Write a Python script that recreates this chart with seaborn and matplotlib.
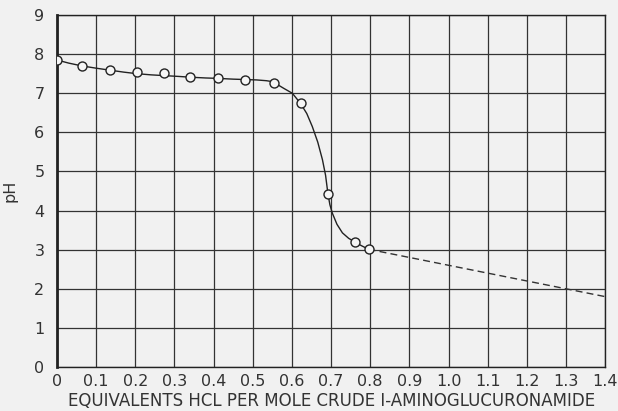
import numpy as np
import pandas as pd
import matplotlib
matplotlib.use("Agg")
import matplotlib.pyplot as plt
import seaborn as sns

eq_hcl = [0.0, 0.063, 0.135, 0.204, 0.274, 0.340, 0.410, 0.480, 0.554, 0.622, 0.692, 0.760, 0.796]
ph_val = [7.85, 7.70, 7.59, 7.55, 7.52, 7.41, 7.38, 7.33, 7.27, 6.74, 4.43, 3.20, 3.01]

# gezeichnete Kurve
curve_x = [0.0, 0.03, 0.063, 0.10, 0.135, 0.17, 0.204, 0.24, 0.274, 0.31, 0.340, 0.38, 0.410,
           0.45, 0.480, 0.51, 0.535, 0.554, 0.565, 0.58, 0.601, 0.622, 0.638, 0.652, 0.666,
           0.678, 0.686, 0.692, 0.697, 0.703, 0.715, 0.729, 0.745, 0.760, 0.778, 0.796]
curve_y = [7.85, 7.77, 7.70, 7.64, 7.59, 7.54, 7.50, 7.47, 7.45, 7.43, 7.41, 7.39, 7.38,
           7.36, 7.35, 7.34, 7.32, 7.29, 7.21, 7.12, 7.00, 6.74, 6.48, 6.15, 5.75,
           5.30, 4.90, 4.43, 4.15, 3.94, 3.65, 3.43, 3.29, 3.20, 3.10, 3.01]

# gestrichelte Verlängerung
dash_x = [0.796, 1.3, 1.4]
dash_y = [3.01, 2.0, 1.8]

x_ticks = [0, 0.1, 0.2, 0.3, 0.4, 0.5, 0.6, 0.7, 0.8, 0.9, 1.0, 1.1, 1.2, 1.3, 1.4]
x_labels = ["0", "0.1", "0.2", "0.3", "0.4", "0.5", "0.6", "0.7", "0.8", "0.9", "1.0", "1.1", "1.2", "1.3", "1.4"]
y_ticks = list(range(0, 10))

sns.set_style("white")
plt.rcParams['font.family'] = ['DejaVu Sans']

fig = plt.figure(figsize=(6.18, 4.11), dpi=100, facecolor="#f1f1f1")
ax = fig.add_axes([0.0922, 0.107, 0.887, 0.8565])
ax.set_facecolor("#f1f1f1")

sns.lineplot(x=curve_x, y=curve_y, ax=ax, color="#222222", lw=1.0, sort=False)
sns.lineplot(x=dash_x, y=dash_y, ax=ax, color="#333333", lw=1.0, linestyle=(0, (5, 3)), sort=False)
sns.scatterplot(x=eq_hcl, y=ph_val, ax=ax, marker="o", s=42, facecolor="#f6f6f6",
                edgecolor="#222222", linewidth=1.0, zorder=5)

ax.set_xlim(0, 1.4)
ax.set_ylim(0, 9)
ax.set_xticks(x_ticks)
ax.set_xticklabels(x_labels)
ax.set_yticks(y_ticks)
ax.grid(True, color="#333333", lw=0.9)
ax.set_axisbelow(True)
for s in ax.spines.values():
    s.set_color("#222222")
    s.set_linewidth(1.0)
ax.spines['left'].set_linewidth(2.0)
ax.tick_params(length=0, labelsize=11.5, colors="#333333")
ax.tick_params(axis='x', pad=5)
ax.tick_params(axis='y', pad=9)

ax.set_xlabel("EQUIVALENTS HCL PER MOLE CRUDE I-AMINOGLUCURONAMIDE", fontsize=12, color="#333333", labelpad=2)
ax.set_ylabel("pH", fontsize=11.5, color="#333333", labelpad=12)

plt.savefig("out.png", dpi=100, facecolor=fig.get_facecolor())
